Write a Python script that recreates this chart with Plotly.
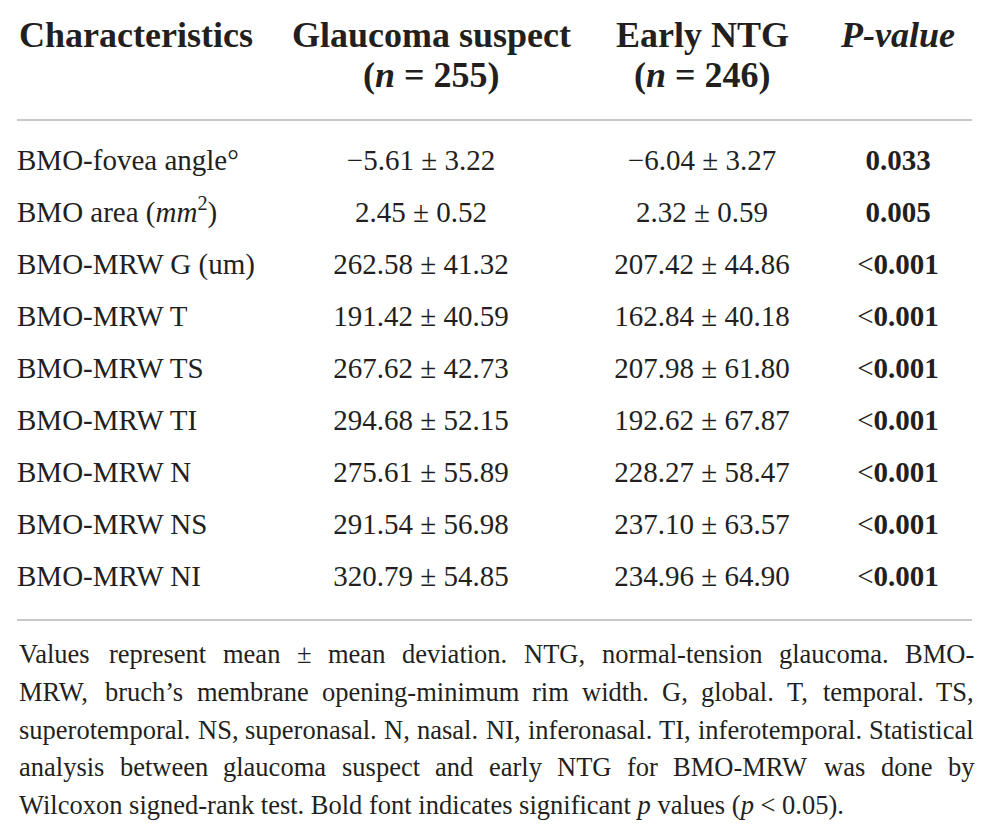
import re

import plotly.graph_objects as go

# table content
characteristics = [
    "BMO-fovea angle°",
    "BMO area (<i>mm</i><sup>2</sup>)",
    "BMO-MRW G (um)",
    "BMO-MRW T",
    "BMO-MRW TS",
    "BMO-MRW TI",
    "BMO-MRW N",
    "BMO-MRW NS",
    "BMO-MRW NI",
]
suspect_mean = [-5.61, 2.45, 262.58, 191.42, 267.62, 294.68, 275.61, 291.54, 320.79]
suspect_sd = [3.22, 0.52, 41.32, 40.59, 42.73, 52.15, 55.89, 56.98, 54.85]
ntg_mean = [-6.04, 2.32, 207.42, 162.84, 207.98, 192.62, 228.27, 237.10, 234.96]
ntg_sd = [3.27, 0.59, 44.86, 40.18, 61.80, 67.87, 58.47, 63.57, 64.90]
p_values = ["0.033", "0.005", "<0.001", "<0.001", "<0.001",
            "<0.001", "<0.001", "<0.001", "<0.001"]

n_suspect = 255
n_ntg = 246

footnote_lines = [
    "Values represent mean ± mean deviation. NTG, normal-tension glaucoma. BMO-",
    "MRW, bruch’s membrane opening-minimum rim width. G, global. T, temporal. TS,",
    "superotemporal. NS, superonasal. N, nasal. NI, inferonasal. TI, inferotemporal. Statistical",
    "analysis between glaucoma suspect and early NTG for BMO-MRW was done by",
    "Wilcoxon signed-rank test. Bold font indicates significant <i>p</i> values (<i>p</i> &lt; 0.05).",
]

INK = "#231f20"
RULE = "#c8c8c8"
SERIF = "Liberation Serif"

# browser body has an 8px margin, so the figure is shrunk and the axes
# shifted so that data units equal page pixels
PAGE_W, PAGE_H, PAD = 988, 830, 8
LEFT, RIGHT = 17, 972
X_SUS, X_NTG, X_P = 421, 702, 898
ROW0, ROW_STEP = 163, 52
FOOT0, FOOT_STEP = 654, 37.8
RULES_Y = (120, 620)

# Times / Liberation Serif advance widths (1/1000 em), used to justify the note
_W = dict(zip("abcdefghijklmnopqrstuvwxyz",
              [444, 500, 444, 500, 444, 333, 500, 500, 278, 278, 500, 278, 778,
               500, 500, 500, 500, 333, 389, 278, 500, 500, 722, 500, 500, 444]))
_W.update(zip("ABCDEFGHIJKLMNOPQRSTUVWXYZ",
              [722, 667, 667, 722, 611, 556, 722, 722, 333, 389, 722, 611, 889,
               722, 722, 556, 722, 667, 556, 611, 722, 722, 944, 722, 722, 611]))
_W.update({c: 500 for c in "0123456789"})
_W.update({".": 250, ",": 250, "-": 333, "’": 333, "(": 333, ")": 333,
           "±": 564, "<": 564, " ": 250})


def text_width(s, size):
    plain = re.sub(r"<[^>]*>", "", s).replace("&lt;", "<")
    return sum(_W.get(c, 500) for c in plain) * size / 1000


def fmt(m, s):
    return f"{m:.2f}".replace("-", "−") + " ± " + f"{s:.2f}"


def fmt_p(p):
    if p.startswith("<"):
        return "&lt;<b>" + p[1:] + "</b>"
    return "<b>" + p + "</b>"


rows_y = [ROW0 + i * ROW_STEP for i in range(len(characteristics))]
body_font = dict(family=SERIF, size=29, color=INK)

fig = go.Figure()
fig.add_trace(go.Scatter(
    x=[LEFT] * len(rows_y), y=rows_y, mode="text",
    text=characteristics, textposition="middle right",
    textfont=body_font, hoverinfo="skip",
))
fig.add_trace(go.Scatter(
    x=[X_SUS] * len(rows_y), y=rows_y, mode="text",
    text=[fmt(m, s) for m, s in zip(suspect_mean, suspect_sd)],
    textposition="middle center", textfont=body_font, hoverinfo="skip",
))
fig.add_trace(go.Scatter(
    x=[X_NTG] * len(rows_y), y=rows_y, mode="text",
    text=[fmt(m, s) for m, s in zip(ntg_mean, ntg_sd)],
    textposition="middle center", textfont=body_font, hoverinfo="skip",
))
fig.add_trace(go.Scatter(
    x=[X_P] * len(rows_y), y=rows_y, mode="text",
    text=[fmt_p(p) for p in p_values],
    textposition="middle center", textfont=body_font, hoverinfo="skip",
))

head_font = dict(family=SERIF, size=36, color=INK)
headers = [
    (LEFT, 35, "left", "<b>Characteristics</b>"),
    (431, 35, "center", "<b>Glaucoma suspect</b>"),
    (431, 75, "center", f"<b>(<i>n</i> = {n_suspect})</b>"),
    (702, 35, "center", "<b>Early NTG</b>"),
    (702, 75, "center", f"<b>(<i>n</i> = {n_ntg})</b>"),
    (897, 35, "center", "<b><i>P-value</i></b>"),
]
for x, y, anchor, txt in headers:
    fig.add_annotation(x=x, y=y, text=txt, showarrow=False, xanchor=anchor,
                       yanchor="middle", font=head_font)

# footnote: justified except for the last line
FOOT_SIZE = 26.5
foot_font = dict(family=SERIF, size=FOOT_SIZE, color=INK)
for i, line in enumerate(footnote_lines):
    y = FOOT0 + i * FOOT_STEP
    if i == len(footnote_lines) - 1:
        fig.add_annotation(x=LEFT, y=y, text=line, showarrow=False,
                           xanchor="left", yanchor="middle", font=foot_font)
        continue
    words = line.split(" ")
    widths = [text_width(w, FOOT_SIZE) for w in words]
    gap = (RIGHT - LEFT - sum(widths)) / (len(words) - 1)
    x = LEFT
    for w, wd in zip(words, widths):
        fig.add_annotation(x=x, y=y, text=w, showarrow=False,
                           xanchor="left", yanchor="middle", font=foot_font)
        x += wd + gap

for y in RULES_Y:
    fig.add_shape(type="line", x0=LEFT, x1=RIGHT, y0=y, y1=y,
                  line=dict(color=RULE, width=2))

fig.update_layout(
    width=PAGE_W - 2 * PAD, height=PAGE_H - 2 * PAD,
    margin=dict(l=0, r=0, t=0, b=0),
    paper_bgcolor="white", plot_bgcolor="white",
    showlegend=False,
    xaxis=dict(range=[PAD, PAGE_W - PAD], visible=False, fixedrange=True),
    yaxis=dict(range=[PAGE_H - PAD, PAD], visible=False, fixedrange=True),
)

fig.write_html("out.html")
